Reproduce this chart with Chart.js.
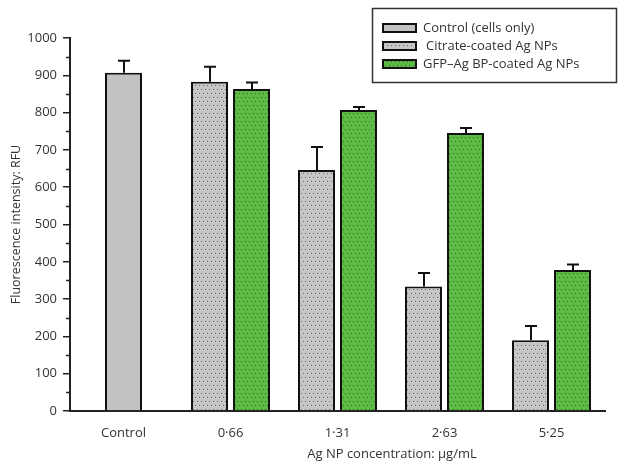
<!DOCTYPE html>
<html>
<head>
<meta charset="utf-8">
<script src="https://cdn.jsdelivr.net/npm/chart.js@4.4.1/dist/chart.umd.min.js"></script>
<style>
  html, body { margin: 0; padding: 0; background: #ffffff; }
  #wrap { width: 624px; height: 472px; position: relative; }
</style>
</head>
<body>
<div id="wrap"><canvas id="c" width="624" height="472"></canvas></div>
<script>
// ---- data ----
const categories = ['Control', '0·66', '1·31', '2·63', '5·25'];
const controlValues = [907, null, null, null, null];
const controlErrors = [32, null, null, null, null];
const citrateValues = [null, 883, 646, 334, 190];
const citrateErrors = [null, 40, 62, 36, 38];
const gfpValues = [null, 863, 807, 745, 378];
const gfpErrors = [null, 18, 8, 14, 15];
const seriesNames = ['Control (cells only)', 'Citrate-coated Ag NPs', 'GFP\u2013Ag BP-coated Ag NPs'];
const yTicks = [0, 100, 200, 300, 400, 500, 600, 700, 800, 900, 1000];
const yMinorTicks = [50, 150, 250, 350, 450, 550, 650, 750, 850, 950];
const xTitle = 'Ag NP concentration: \u03bcg/mL';
const yTitle = 'Fluorescence intensity: RFU';

const FONT = '"Open Sans", "DejaVu Sans", sans-serif';

function makePattern(bg, dot) {
  const c = document.createElement('canvas');
  c.width = 8; c.height = 8;
  const g = c.getContext('2d');
  g.fillStyle = bg; g.fillRect(0, 0, 8, 8);
  g.fillStyle = dot;
  [[1, 1], [5, 1], [3, 5], [7, 5]].forEach(p => g.fillRect(p[0], p[1], 1, 1));
  return g.createPattern(c, 'repeat');
}
const ctx0 = document.getElementById('c').getContext('2d');
const grayFill = '#c2c2c2';
const grayPattern = makePattern('#c6c6c6', '#6a6a6a');
const greenPattern = makePattern('#5cba45', '#2b6e1f');
const fills = [grayFill, grayPattern, greenPattern];
const errors = [controlErrors, citrateErrors, gfpErrors];

const errorBarPlugin = {
  id: 'errorBars',
  afterDatasetsDraw(chart) {
    const g = chart.ctx;
    const ys = chart.scales.y;
    g.save();
    g.strokeStyle = '#111';
    g.lineWidth = 2;
    chart.data.datasets.forEach((ds, di) => {
      const meta = chart.getDatasetMeta(di);
      ds.data.forEach((v, i) => {
        const e = errors[di][i];
        if (v == null || e == null) return;
        const el = meta.data[i];
        const x = Math.round(el.x);
        const yTop = ys.getPixelForValue(v);
        const yErr = ys.getPixelForValue(v + e);
        g.beginPath();
        g.moveTo(x, yTop); g.lineTo(x, yErr);
        g.moveTo(x - 6, yErr); g.lineTo(x + 6, yErr);
        g.stroke();
      });
    });
    g.restore();
  }
};

const decorPlugin = {
  id: 'decor',
  afterDraw(chart) {
    const g = chart.ctx;
    const ys = chart.scales.y;
    const left = chart.chartArea.left;
    g.save();
    // minor ticks
    g.strokeStyle = '#222';
    g.lineWidth = 1.5;
    yMinorTicks.forEach(v => {
      const y = Math.round(ys.getPixelForValue(v)) + 0.5;
      g.beginPath(); g.moveTo(left - 4, y); g.lineTo(left, y); g.stroke();
    });
    // axis titles
    g.fillStyle = '#333';
    g.font = '13px ' + FONT;
    g.textAlign = 'center'; g.textBaseline = 'middle';
    g.fillText(xTitle, 392, 454);
    g.font = '12.5px ' + FONT;
    g.save();
    g.translate(16, (chart.chartArea.top + chart.chartArea.bottom) / 2);
    g.rotate(-Math.PI / 2);
    g.fillText(yTitle, 0, 0);
    g.restore();
    // legend
    g.fillStyle = '#fff';
    g.fillRect(372, 8, 245, 75);
    g.strokeStyle = '#333'; g.lineWidth = 1.5;
    g.strokeRect(372.5, 8.5, 244, 74);
    const rows = [28, 46, 64];
    const textX = [423, 426, 423];
    rows.forEach((ry, i) => {
      g.fillStyle = fills[i];
      g.fillRect(382, ry - 5, 35, 10);
      g.strokeStyle = '#111'; g.lineWidth = 2;
      g.strokeRect(383, ry - 4, 33, 8);
      g.fillStyle = '#333';
      g.textAlign = 'left'; g.textBaseline = 'middle';
      g.font = '13px ' + FONT;
      g.fillText(seriesNames[i], textX[i], ry);
    });
    g.restore();
  }
};

const common = { borderColor: '#111', borderWidth: 2, borderSkipped: 'bottom', maxBarThickness: 37 };

new Chart(ctx0, {
  type: 'bar',
  data: {
    labels: categories,
    datasets: [
      Object.assign({ label: seriesNames[0], data: controlValues, backgroundColor: fills[0] }, common),
      Object.assign({ label: seriesNames[1], data: citrateValues, backgroundColor: fills[1] }, common),
      Object.assign({ label: seriesNames[2], data: gfpValues, backgroundColor: fills[2] }, common)
    ]
  },
  options: {
    responsive: false,
    animation: false,
    devicePixelRatio: 1,
    skipNull: true,
    categoryPercentage: 84 / 107,
    barPercentage: 1,
    layout: { padding: { left: 0, top: 38, right: 19, bottom: 0 } },
    plugins: { legend: { display: false }, tooltip: { enabled: false } },
    scales: {
      x: {
        grid: { display: false, drawTicks: false },
        border: { display: true, color: '#222', width: 2 },
        ticks: { color: '#333', font: { family: FONT, size: 13 }, padding: 14, maxRotation: 0 },
        afterFit(s) { s.height = 61; }
      },
      y: {
        min: 0, max: 1000,
        afterBuildTicks(s) { s.ticks = yTicks.map(v => ({ value: v })); },
        grid: { display: true, drawOnChartArea: false, drawTicks: true, tickLength: 7, tickColor: '#222', lineWidth: 1.5 },
        border: { display: true, color: '#222', width: 2 },
        ticks: { color: '#333', font: { family: FONT, size: 13 }, padding: 6, callback: v => String(v) },
        afterFit(s) { s.width = 70; }
      }
    }
  },
  plugins: [errorBarPlugin, decorPlugin]
});
</script>
</body>
</html>
